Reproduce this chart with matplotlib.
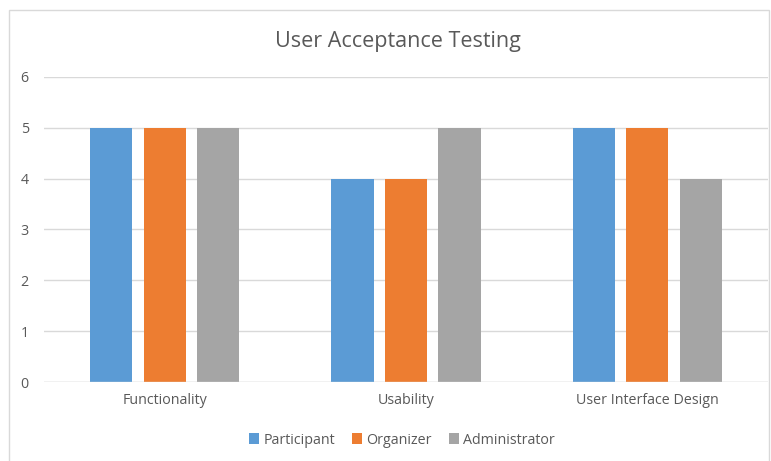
import matplotlib.pyplot as plt
import numpy as np
from matplotlib.patches import Rectangle

categories = ["Functionality", "Usability", "User Interface Design"]
participant = [5, 4, 5]
organizer = [5, 4, 5]
administrator = [5, 5, 4]

series = [("Participant", participant, "#5B9BD5"),
          ("Organizer", organizer, "#ED7D31"),
          ("Administrator", administrator, "#A5A5A5")]

plt.rcParams['font.family'] = ['Open Sans', 'DejaVu Sans']
txt = "#595959"

fig = plt.figure(figsize=(7.71, 4.61), dpi=100)
ax = fig.add_axes([44 / 771, 1 - 382 / 461, 724 / 771, 305 / 461])

x = np.arange(len(categories))
w = 0.175
step = 0.222
for i, (name, vals, col) in enumerate(series):
    ax.bar(x + (i - 1) * step, vals, w, color=col, label=name, zorder=3)

ax.set_xlim(-0.5, 2.5)
ax.set_ylim(0, 6)
ax.set_yticks(range(7))
ax.set_xticks(x)
ax.set_xticklabels(categories)
ax.grid(axis='y', color="#D9D9D9", linewidth=1, zorder=0)
for s in ax.spines.values():
    s.set_visible(False)
ax.axhline(0, color="#D9D9D9", linewidth=1, zorder=4)
ax.tick_params(length=0, colors=txt, labelsize=10.3)
ax.tick_params(axis='y', pad=11)
ax.tick_params(axis='x', pad=8)

fig.text(398 / 771, 1 - 41 / 461, "User Acceptance Testing", ha='center', va='center',
         fontsize=15.5, color=txt)

leg = fig.legend(loc='center', bbox_to_anchor=(402 / 771, 1 - 440 / 461), ncol=3,
                 frameon=False, fontsize=10.3, handlelength=0.7, handleheight=0.7,
                 handletextpad=0.3, columnspacing=1.2, labelcolor=txt)

fig.patches.append(Rectangle((8.5 / 771, -0.01), (769 - 8.5) / 771, 1 - 10 / 461 + 0.01,
                             transform=fig.transFigure, fill=False,
                             edgecolor="#D9D9D9", linewidth=1))

fig.savefig("out.png", dpi=100)
